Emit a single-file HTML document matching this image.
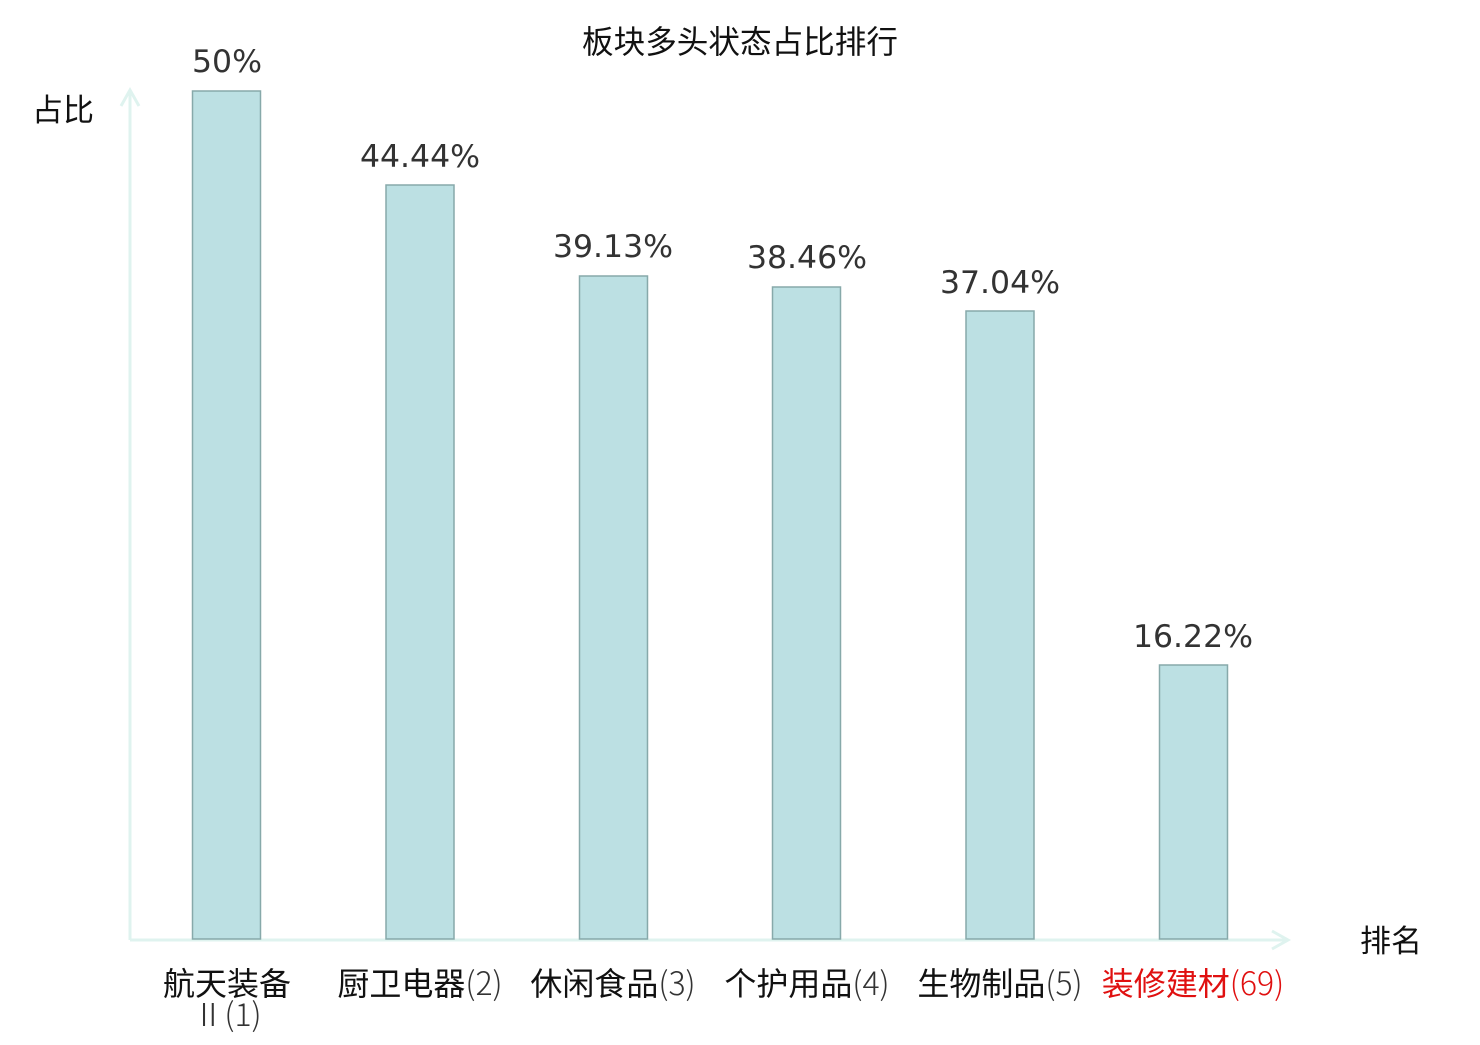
<!DOCTYPE html>
<html><head><meta charset="utf-8"><style>
body{margin:0;background:#fff}
svg text{font-family:"DejaVu Sans","Noto Sans CJK SC",sans-serif}
.cj{font-family:"Noto Sans CJK SC",sans-serif}
</style></head><body>
<svg width="1480" height="1040" xmlns="http://www.w3.org/2000/svg">
<rect width="1480" height="1040" fill="#fff"/>
<text x="740" y="53" font-size="31.6" text-anchor="middle" fill="#111">板块多头状态占比排行</text>
<text x="63" y="121" font-size="31" text-anchor="middle" fill="#111">占比</text>
<text x="1391" y="952" font-size="31" text-anchor="middle" fill="#111">排名</text>
<g stroke="#dff3ef" stroke-width="3" fill="none">
<line x1="130" y1="90" x2="130" y2="940"/>
<polyline points="121,106 130,90 139,106"/>
<line x1="130" y1="940" x2="1288" y2="940"/>
<polyline points="1272,931 1288,940 1272,949"/>
</g>
<g fill="#bce0e3" stroke="#87a9aa" stroke-width="1.5">
<rect x="192.5" y="91" width="68" height="848"/>
<rect x="386" y="185" width="68" height="754"/>
<rect x="579.5" y="276" width="68" height="663"/>
<rect x="772.5" y="287" width="68" height="652"/>
<rect x="966" y="311" width="68" height="628"/>
<rect x="1159.5" y="665" width="68" height="274"/>
</g>
<g font-size="31.5" text-anchor="middle" fill="#333">
<text x="227" y="72">50%</text>
<text x="420" y="167">44.44%</text>
<text x="613" y="257">39.13%</text>
<text x="807" y="268">38.46%</text>
<text x="1000" y="293">37.04%</text>
<text x="1193" y="647">16.22%</text>
</g>
<g font-size="32" text-anchor="middle" fill="#111" class="cj">
<text class="cj" x="227" y="995">航天装备</text>
<text class="cj" x="227" y="1026" fill="#333" font-weight="300">Ⅱ(1)</text>
<text class="cj" x="420" y="995">厨卫电器<tspan fill="#333" font-weight="300">(2)</tspan></text>
<text class="cj" x="613" y="995">休闲食品<tspan fill="#333" font-weight="300">(3)</tspan></text>
<text class="cj" x="807" y="995">个护用品<tspan fill="#333" font-weight="300">(4)</tspan></text>
<text class="cj" x="1000" y="995">生物制品<tspan fill="#333" font-weight="300">(5)</tspan></text>
<text class="cj" x="1193" y="995" fill="#e01010">装修建材<tspan font-weight="300">(69)</tspan></text>
</g>
</svg>
</body></html>
